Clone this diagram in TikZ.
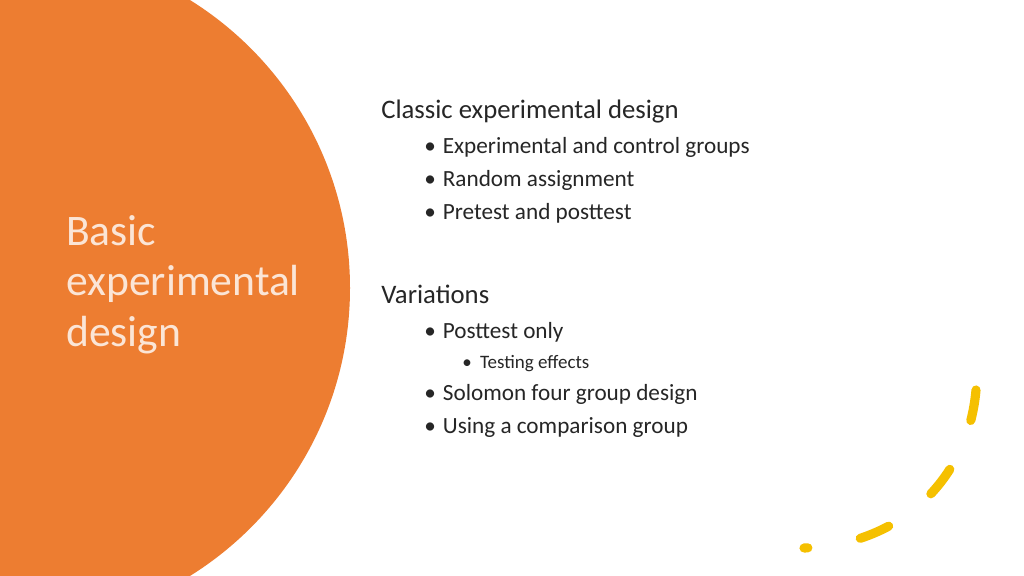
\documentclass[tikz,border=0pt]{standalone}
\usepackage{fontspec}
\setmainfont{Carlito}
\usetikzlibrary{positioning}
\definecolor{slideorange}{HTML}{ED7D31}
\definecolor{slideyellow}{HTML}{F5C000}
\definecolor{titlecream}{HTML}{FBE5D6}
\definecolor{bodygray}{HTML}{262626}
\begin{document}
\begin{tikzpicture}[
    x=0.025cm, y=-0.025cm,
    head/.style={anchor=base west, inner sep=0pt, text=bodygray, font=\fontsize{19}{22}\selectfont},
    item/.style={anchor=base west, inner sep=0pt, text=bodygray, font=\fontsize{16.5}{20}\selectfont},
    subitem/.style={anchor=base west, inner sep=0pt, text=bodygray, font=\fontsize{13.5}{16}\selectfont},
    title/.style={anchor=base west, inner sep=0pt, text=titlecream, font=\fontsize{31}{36}\selectfont}
]
    % Background
    \useasboundingbox (0,0) rectangle (1024,576);
    \fill[white] (0,0) rectangle (1024,576);
    \begin{scope}
        \clip (0,0) rectangle (1024,576);
        \fill[slideorange] (11,288) circle[radius=339];
    \end{scope}

    % Title
    \node[title] (basic) at (66,246) {Basic};
    \node[title] (expt) at (66,296) {experimental};
    \node[title] (design) at (66,346) {design};

    % Classic design
    \node[head] (classic) at (381,119) {Classic experimental design};
    \node[item] (groups) at (424,154) {\textbullet\hspace{5pt}Experimental and control groups};
    \node[item] (random) at (424,187) {\textbullet\hspace{5pt}Random assignment};
    \node[item] (pretest) at (424,220) {\textbullet\hspace{5pt}Pretest and posttest};

    % Variations
    \node[head] (variations) at (381,304) {Variations};
    \node[item] (posttest) at (424,339) {\textbullet\hspace{5pt}Posttest only};
    \node[subitem] (testing) at (462,368) {\textbullet\hspace{6pt}Testing effects};
    \node[item] (solomon) at (424,400) {\textbullet\hspace{5pt}Solomon four group design};
    \node[item] (comparison) at (424,433) {\textbullet\hspace{5pt}Using a comparison group};

    % Dashed arc
    \coordinate (arcstart) at (976,390);
    \coordinate (arcend) at (804,548);
    \draw[slideyellow, line width=6.5pt, line cap=round, dash pattern=on 22pt off 38pt]
        (arcstart) .. controls (968,480) and (900,545) .. (arcend);
\end{tikzpicture}
\end{document}
